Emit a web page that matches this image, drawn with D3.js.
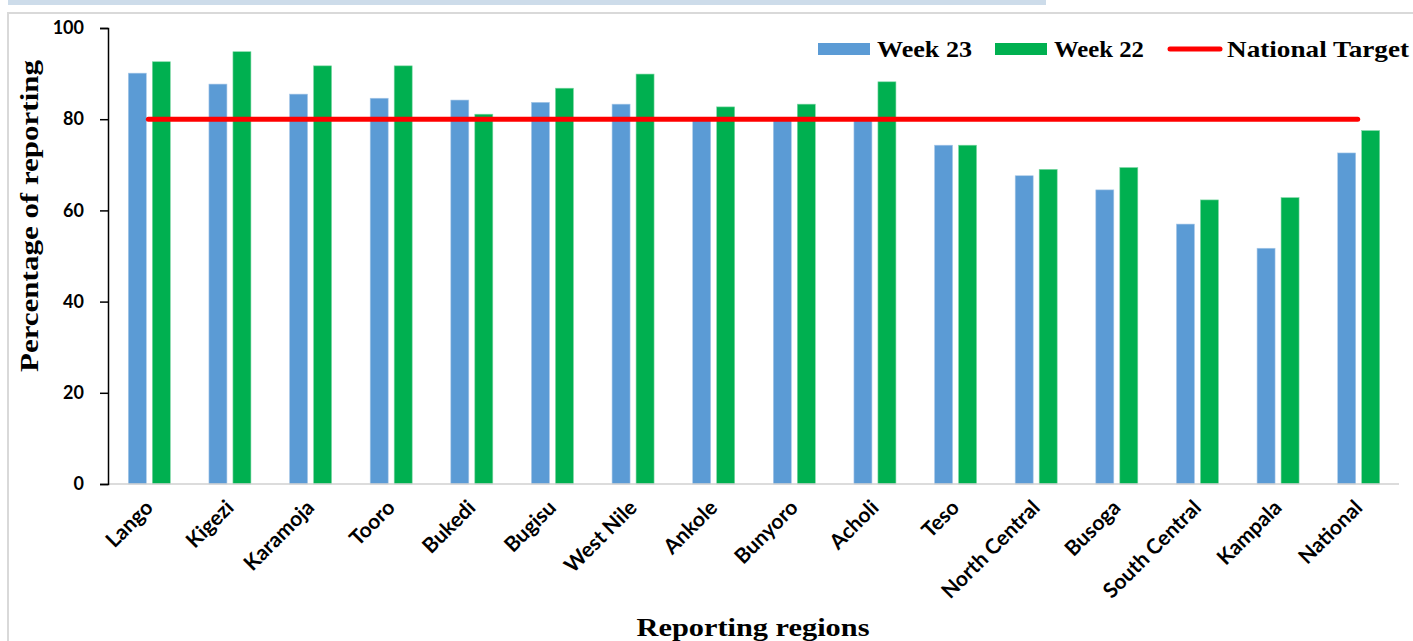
<!DOCTYPE html>
<html>
<head>
<meta charset="utf-8">
<script src="https://cdn.jsdelivr.net/npm/d3@7"></script>
<style>
  html, body { margin: 0; padding: 0; background: #fff; }
  svg { display: block; }
</style>
</head>
<body>
<svg id="chart"></svg>
<script>
// regions along the x axis
const regions = ["Lango", "Kigezi", "Karamoja", "Tooro", "Bukedi", "Bugisu", "West Nile", "Ankole",
    "Bunyoro", "Acholi", "Teso", "North Central", "Busoga", "South Central", "Kampala", "National"];

// percentage of reporting
const week23 = [90.1, 87.7, 85.5, 84.6, 84.2, 83.7, 83.3, 80.1, 80.0, 80.2, 74.3, 67.6, 64.5, 57.0, 51.7, 72.6];
const week22 = [92.6, 94.8, 91.7, 91.7, 81.1, 86.8, 89.9, 82.7, 83.3, 88.2, 74.3, 69.0, 69.4, 62.3, 62.8, 77.5];
const nationalTarget = 80;

const yTicks = [0, 20, 40, 60, 80, 100];

const W = 1413, H = 641;
const colors = { w23: "#5b9bd5", w22: "#00b050", target: "#ff0000" };
const calibri = "Lato, 'Open Sans', sans-serif";
const cambria = "'Liberation Serif', 'DejaVu Serif', serif";

const margin = { left: 108, right: 15, top: 28, bottom: 157 };

const svg = d3.select("#chart")
    .attr("width", W)
    .attr("height", H);

// light strip at the very top and the chart frame
svg.append("rect")
    .attr("x", 8).attr("y", 0)
    .attr("width", 1038).attr("height", 5)
    .attr("fill", "#cddcea");

svg.append("rect")
    .attr("x", 8).attr("y", 13)
    .attr("width", W).attr("height", H)
    .attr("fill", "none")
    .attr("stroke", "#d9d9d9")
    .attr("stroke-width", 2);

const x = d3.scaleBand()
    .domain(regions)
    .range([margin.left, W - margin.right])
    .paddingInner(0)
    .paddingOuter(0);

const y = d3.scaleLinear()
    .domain([0, 100])
    .range([H - margin.bottom, margin.top]);

const barW = 18;
const barGap = 6;

// bars
const groups = svg.append("g")
    .selectAll("g")
    .data(regions)
    .join("g")
    .attr("transform", d => `translate(${x(d) + x.bandwidth() / 2}, 0)`);

groups.append("rect")
    .attr("x", -barW - barGap / 2 + 1)
    .attr("y", (d, i) => y(week23[i]))
    .attr("width", barW)
    .attr("height", (d, i) => y(0) - y(week23[i]))
    .attr("fill", colors.w23)
    .attr("stroke", "#a9c9e8")
    .attr("stroke-width", 0.6);

groups.append("rect")
    .attr("x", barGap / 2 + 1)
    .attr("y", (d, i) => y(week22[i]))
    .attr("width", barW)
    .attr("height", (d, i) => y(0) - y(week22[i]))
    .attr("fill", colors.w22)
    .attr("stroke", "#7fd8a6")
    .attr("stroke-width", 0.6);

// x axis baseline (grey, no ticks)
svg.append("line")
    .attr("x1", margin.left).attr("x2", W - margin.right + 1)
    .attr("y1", y(0)).attr("y2", y(0))
    .attr("stroke", "#d0d0d0")
    .attr("stroke-width", 1.5);

// national target line from first to last category centre
const targetLine = d3.line()
    .x(d => x(d) + x.bandwidth() / 2)
    .y(() => y(nationalTarget));

svg.append("path")
    .attr("d", targetLine([regions[0], regions[regions.length - 1]]))
    .attr("stroke", colors.target)
    .attr("stroke-width", 5)
    .attr("stroke-linecap", "round")
    .attr("fill", "none");

// y axis
const yAxis = svg.append("g")
    .attr("transform", `translate(${margin.left}, 0)`)
    .call(d3.axisLeft(y).tickValues(yTicks).tickSize(8).tickPadding(16).tickSizeOuter(8));

yAxis.select(".domain").attr("stroke", "#000").attr("stroke-width", 1.5);
yAxis.selectAll(".tick line").attr("stroke", "#000").attr("stroke-width", 1.5);
yAxis.selectAll(".tick text")
    .attr("font-family", calibri)
    .attr("font-weight", "bold")
    .attr("font-size", 18)
    .attr("fill", "#000");

// x category labels, rotated
svg.append("g")
    .selectAll("text")
    .data(regions)
    .join("text")
    .attr("transform", d => `translate(${x(d) + x.bandwidth() / 2 + 6}, ${y(0) + 25}) rotate(-45)`)
    .attr("text-anchor", "end")
    .attr("font-family", calibri)
    .attr("font-weight", "bold")
    .attr("font-size", 21)
    .attr("fill", "#000")
    .text(d => d);

// axis titles
svg.append("text")
    .attr("transform", `translate(38, 216) rotate(-90)`)
    .attr("text-anchor", "middle")
    .attr("font-family", cambria)
    .attr("font-weight", "bold")
    .attr("font-size", 25)
    .attr("textLength", 312)
    .attr("lengthAdjust", "spacingAndGlyphs")
    .attr("fill", "#000")
    .text("Percentage of reporting");

svg.append("text")
    .attr("x", 753)
    .attr("y", 636)
    .attr("text-anchor", "middle")
    .attr("font-family", cambria)
    .attr("font-weight", "bold")
    .attr("font-size", 26)
    .attr("textLength", 233)
    .attr("lengthAdjust", "spacingAndGlyphs")
    .attr("fill", "#000")
    .text("Reporting regions");

// legend
const legendItems = [
    { label: "Week 23", color: colors.w23, type: "bar", x: 818, w: 95 },
    { label: "Week 22", color: colors.w22, type: "bar", x: 995, w: 90 },
    { label: "National Target", color: colors.target, type: "line", x: 1168, w: 182 }
];

const legend = svg.append("g")
    .selectAll("g")
    .data(legendItems)
    .join("g")
    .attr("transform", d => `translate(${d.x}, 49)`);

legend.filter(d => d.type === "bar")
    .append("rect")
    .attr("x", 0).attr("y", -6)
    .attr("width", 52).attr("height", 12)
    .attr("fill", d => d.color);

legend.filter(d => d.type === "line")
    .append("line")
    .attr("x1", 2).attr("x2", 52)
    .attr("y1", 0).attr("y2", 0)
    .attr("stroke", d => d.color)
    .attr("stroke-width", 5)
    .attr("stroke-linecap", "round");

legend.append("text")
    .attr("x", 59)
    .attr("y", 8)
    .attr("font-family", cambria)
    .attr("font-weight", "bold")
    .attr("font-size", 23)
    .attr("textLength", d => d.w)
    .attr("lengthAdjust", "spacingAndGlyphs")
    .attr("fill", "#000")
    .text(d => d.label);
</script>
</body>
</html>
